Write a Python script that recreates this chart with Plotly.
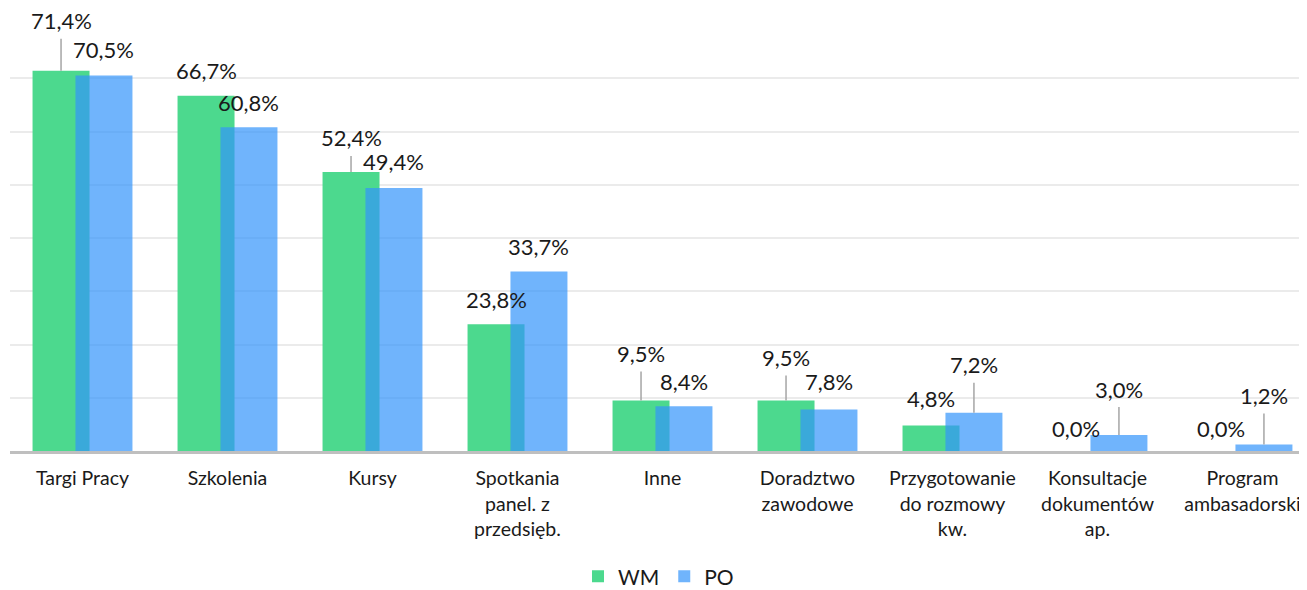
import plotly.graph_objects as go

# Categories and values (shares, as fractions)
categories = [
    "Targi Pracy",
    "Szkolenia",
    "Kursy",
    "Spotkania<br>panel. z<br>przedsięb.",
    "Inne",
    "Doradztwo<br>zawodowe",
    "Przygotowanie<br>do rozmowy<br>kw.",
    "Konsultacje<br>dokumentów<br>ap.",
    "Program<br>ambasadorski",
]
wm = [0.714, 0.667, 0.524, 0.238, 0.095, 0.095, 0.048, 0.0, 0.0]
po = [0.705, 0.608, 0.494, 0.337, 0.084, 0.078, 0.072, 0.030, 0.012]

# label placement (pixels above bar top) and whether a leader line is drawn
wm_lift = [50, 25, 34, 25, 47, 43, 27, 23, 23]
wm_leader = [True, False, True, False, True, True, False, False, False]
po_lift = [26, 25, 26, 25, 25, 28, 48, 46, 49]
po_leader = [False, False, False, False, False, False, True, True, True]

FONT = "Lato"
GREEN = "#4cd98e"
BLUE = "rgba(51,148,251,0.7)"
BAR_W = 0.393
SHIFT = 0.148


def pct(v):
    return f"{v * 100:.1f}".replace(".", ",") + "%"


x_idx = list(range(len(categories)))

fig = go.Figure()
fig.add_trace(go.Bar(
    x=x_idx, y=wm, name="WM", marker=dict(color=GREEN, line=dict(width=0)),
    width=BAR_W, offset=-SHIFT - BAR_W / 2,
))
fig.add_trace(go.Bar(
    x=x_idx, y=po, name="PO", marker=dict(color=BLUE, line=dict(width=0)),
    width=BAR_W, offset=SHIFT - BAR_W / 2,
))

annotations = []
for vals, lifts, leaders, dx in [(wm, wm_lift, wm_leader, -SHIFT), (po, po_lift, po_leader, SHIFT)]:
    for i, (v, lift, lead) in enumerate(zip(vals, lifts, leaders)):
        if lead:
            annotations.append(dict(
                x=i + dx, y=v, text=pct(v), showarrow=True, arrowhead=0,
                arrowwidth=1.5, arrowcolor="#a6a6a6", ax=0, ay=-lift,
                startstandoff=3, font=dict(family=FONT, size=22, color="#1a1a1a"),
            ))
        else:
            annotations.append(dict(
                x=i + dx, y=v, text=pct(v), showarrow=False, yanchor="middle",
                yshift=lift, font=dict(family=FONT, size=22, color="#1a1a1a"),
            ))

# the page body adds an 8px offset, so the figure is 8px smaller each way
fig.update_layout(
    width=1299,
    height=582,
    margin=dict(l=2, r=0, t=17, b=139, autoexpand=False),
    plot_bgcolor="white",
    paper_bgcolor="white",
    barmode="overlay",
    font=dict(family=FONT, size=21, color="#1a1a1a"),
    annotations=annotations,
    showlegend=True,
    legend=dict(
        orientation="h", x=0.5, xanchor="center", y=-0.295, yanchor="middle",
        font=dict(family=FONT, size=21, color="#1a1a1a"), itemwidth=30,
        traceorder="normal",
    ),
    xaxis=dict(
        tickmode="array", tickvals=x_idx, ticktext=categories,
        range=[-0.5, 8.445], showgrid=False, showline=True, automargin=False,
        linecolor="#bfbfbf", linewidth=3, ticks="", ticklabelstandoff=8,
        tickfont=dict(family=FONT, size=19.5, color="#1a1a1a"),
    ),
    yaxis=dict(
        range=[0, 0.8], dtick=0.1, showticklabels=False, showgrid=True,
        gridcolor="#ebebeb", gridwidth=2, zeroline=False, showline=False,
        automargin=False,
    ),
)

fig.write_html("out.html")
